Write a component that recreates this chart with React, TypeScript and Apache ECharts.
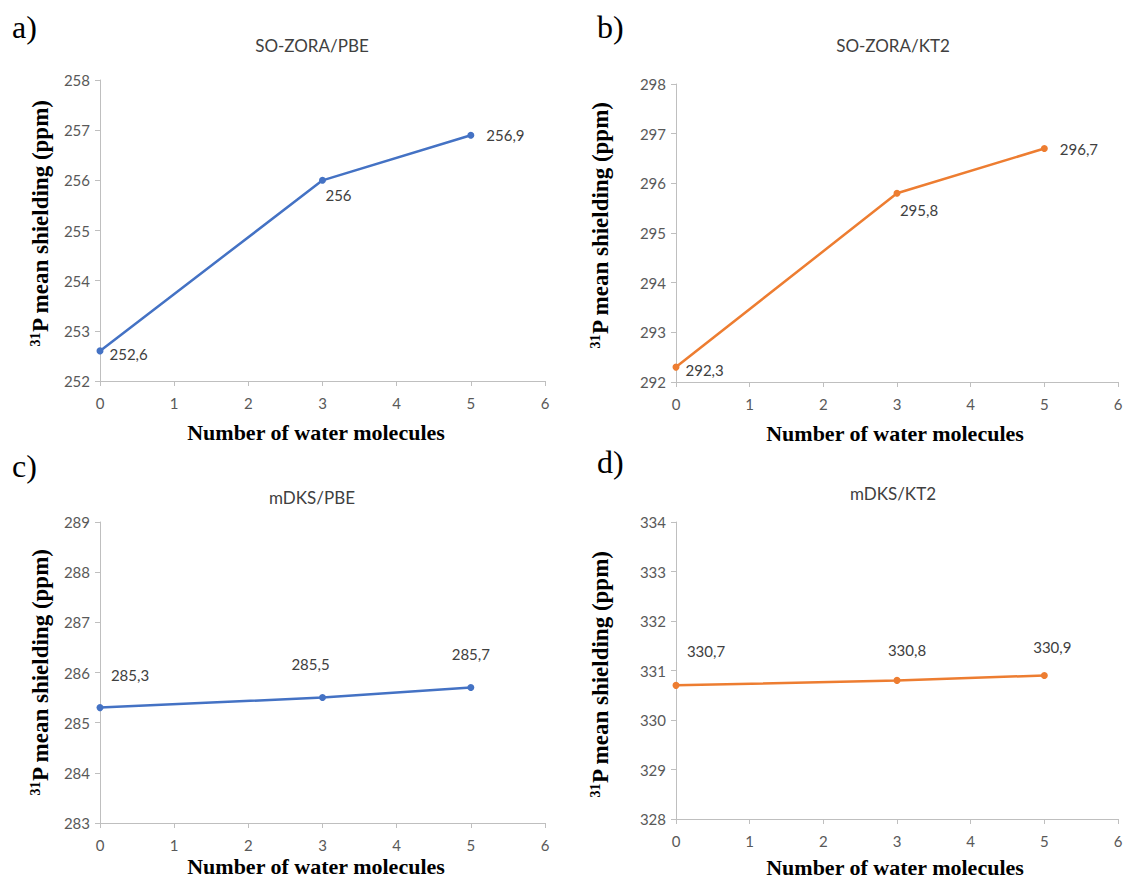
import React, { useEffect, useRef } from "react";
import * as echarts from "echarts";

const xValues = [0, 3, 5];
const soZoraPBE = [252.6, 256, 256.9];
const soZoraKT2 = [292.3, 295.8, 296.7];
const mdksPBE = [285.3, 285.5, 285.7];
const mdksKT2 = [330.7, 330.8, 330.9];

const titles = ["SO-ZORA/PBE", "SO-ZORA/KT2", "mDKS/PBE", "mDKS/KT2"];
const letters = ["a)", "b)", "c)", "d)"];
const yRanges = [
  [252, 258],
  [292, 298],
  [283, 289],
  [328, 334],
];
const xTitle = "Number of water molecules";

const BLUE = "#4472C4";
const ORANGE = "#ED7D31";

export default function App() {
  const ref = useRef<HTMLDivElement>(null);
  useEffect(() => {
    if (!ref.current) return;
    document.body.style.margin = "0";
    const chart = echarts.init(ref.current, null, { renderer: "svg" });

    const grids = [
      { left: 100, top: 80, width: 445, height: 301 },
      { left: 676, top: 84, width: 442, height: 298 },
      { left: 100, top: 522, width: 445, height: 301 },
      { left: 676, top: 522, width: 442, height: 297 },
    ];
    const seriesData = [soZoraPBE, soZoraKT2, mdksPBE, mdksKT2];
    const colors = [BLUE, ORANGE, BLUE, ORANGE];
    const labelCfg: any[][] = [
      [
        { position: "right", distance: 6, offset: [0, 3] },
        { position: "bottom", distance: 4, offset: [16, 0] },
        { position: "right", distance: 12, offset: [0, 0] },
      ],
      [
        { position: "right", distance: 6, offset: [0, 3] },
        { position: "bottom", distance: 4, offset: [22, 2] },
        { position: "right", distance: 12, offset: [0, 0] },
      ],
      [
        { position: "top", distance: 5, offset: [30, -17] },
        { position: "top", distance: 5, offset: [-12, -18] },
        { position: "top", distance: 5, offset: [0, -18] },
      ],
      [
        { position: "top", distance: 5, offset: [30, -18] },
        { position: "top", distance: 5, offset: [10, -14] },
        { position: "top", distance: 5, offset: [8, -12] },
      ],
    ];

    const axisLine = { show: true, lineStyle: { color: "#BFBFBF", width: 1 } };
    const axisTick = { show: true, length: 5, lineStyle: { color: "#BFBFBF" } };
    const tickLabel = { color: "#595959", fontSize: 15, fontFamily: "Lato" };

    const xAxis = grids.map((_, i) => ({
      type: "value",
      gridIndex: i,
      min: 0,
      max: 6,
      interval: 1,
      axisLine,
      axisTick,
      splitLine: { show: false },
      axisLabel: { ...tickLabel, margin: 14 },
    }));
    const yAxis = grids.map((_, i) => ({
      type: "value",
      gridIndex: i,
      min: yRanges[i][0],
      max: yRanges[i][1],
      interval: 1,
      axisLine,
      axisTick,
      splitLine: { show: false },
      axisLabel: { ...tickLabel, margin: 10 },
    }));

    const series = seriesData.map((vals, i) => ({
      type: "line",
      xAxisIndex: i,
      yAxisIndex: i,
      data: vals.map((v, j) => ({
        value: [xValues[j], v],
        label: {
          show: true,
          ...labelCfg[i][j],
          formatter: String(v).replace(".", ","),
          color: "#404040",
          fontSize: 15,
          fontFamily: "Lato",
        },
      })),
      symbol: "circle",
      symbolSize: 7,
      itemStyle: { color: colors[i] },
      lineStyle: { color: colors[i], width: 2.5 },
    }));

    const titlePos = [
      [312, 45],
      [893, 45],
      [312, 497],
      [893, 493],
    ];
    const letterPos = [
      [12, 27],
      [597, 27],
      [12, 466],
      [597, 462],
    ];
    const xTitlePos = [
      [316, 432],
      [895, 433],
      [316, 866],
      [895, 867],
    ];
    const yTitlePos = [
      [40, 223],
      [600, 225],
      [40, 672],
      [600, 674],
    ];

    const graphic: any[] = [];
    for (let i = 0; i < 4; i++) {
      graphic.push({
        type: "text",
        x: titlePos[i][0],
        y: titlePos[i][1],
        style: {
          text: titles[i],
          align: "center",
          verticalAlign: "middle",
          fill: "#404040",
          fontSize: 17,
          fontFamily: "Lato",
        },
      });
      graphic.push({
        type: "text",
        x: letterPos[i][0],
        y: letterPos[i][1],
        style: {
          text: letters[i],
          align: "left",
          verticalAlign: "middle",
          fill: "#000",
          fontSize: 32,
          fontFamily: "Liberation Serif",
        },
      });
      graphic.push({
        type: "text",
        x: xTitlePos[i][0],
        y: xTitlePos[i][1],
        style: {
          text: xTitle,
          align: "center",
          verticalAlign: "middle",
          fill: "#000",
          fontSize: 22,
          fontWeight: "bold",
          fontFamily: "Liberation Serif",
        },
      });
      graphic.push({
        type: "text",
        x: yTitlePos[i][0],
        y: yTitlePos[i][1],
        rotation: Math.PI / 2,
        style: {
          text: "{sup|31}{b|P mean shielding (ppm)}",
          align: "center",
          verticalAlign: "middle",
          rich: {
            sup: {
              fontSize: 14,
              fontWeight: "bold",
              fontFamily: "Liberation Serif",
              fill: "#000",
              padding: [0, 0, 10, 0],
            },
            b: {
              fontSize: 23,
              fontWeight: "bold",
              fontFamily: "Liberation Serif",
              fill: "#000",
            },
          },
        },
      });
    }

    chart.setOption({
      animation: false,
      backgroundColor: "#fff",
      grid: grids,
      xAxis,
      yAxis,
      series,
      graphic,
    });
    return () => chart.dispose();
  }, []);
  return <div ref={ref} style={{ width: 1128, height: 879 }} />;
}
